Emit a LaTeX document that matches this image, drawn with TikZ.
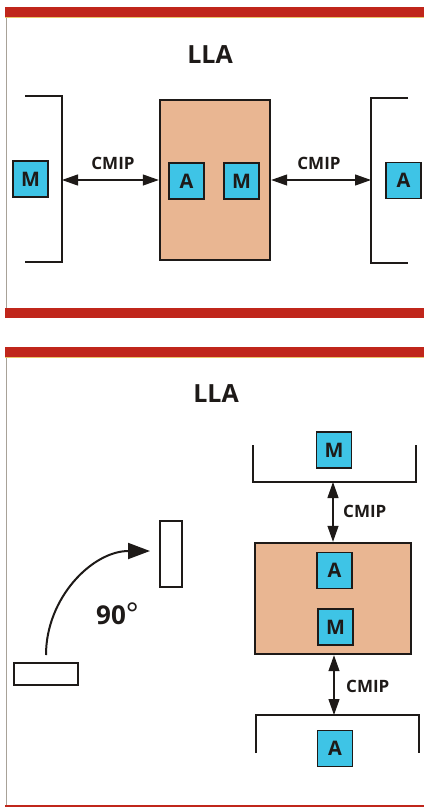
\documentclass[tikz,border=0pt]{standalone}
\usepackage{fontspec}
\setmainfont{Open Sans}
\usetikzlibrary{arrows.meta}
\definecolor{barred}{HTML}{C0261B}
\definecolor{baryel}{HTML}{EAC46A}
\definecolor{edgegray}{HTML}{A8A298}
\definecolor{salmon}{HTML}{E9B692}
\definecolor{agcyan}{HTML}{3EC4E6}
\definecolor{ink}{HTML}{1E1A18}
\tikzset{
  agent/.style={draw=ink, line width=1.1pt, fill=agcyan, minimum width=35pt, minimum height=36pt,
    inner sep=0pt, font=\fontsize{20}{20}\selectfont\bfseries, text=ink},
  sysbox/.style={draw=ink, line width=2.4pt, fill=salmon, inner sep=0pt},
  bracketline/.style={draw=ink, line width=2pt},
  link/.style={draw=ink, line width=1.2pt, {Triangle[length=16pt,width=11pt]}-{Triangle[length=16pt,width=11pt]}},
  lbl/.style={font=\fontsize{17}{17}\selectfont\bfseries, text=ink, inner sep=0pt},
  title/.style={font=\fontsize{25}{25}\selectfont\bfseries, text=ink, inner sep=0pt},
  plate/.style={draw=ink, line width=1.1pt, fill=white},
}
\begin{document}
\begin{tikzpicture}[x=1pt,y=-1pt]
\useasboundingbox[fill=white] (0,0) rectangle (424,807);
% frame bars
\fill[barred] (5,7) rectangle (424,17);
\fill[baryel] (5,17) rectangle (424,18);
\fill[barred] (5,308) rectangle (424,318);
\fill[barred] (5,347) rectangle (424,357);
\fill[baryel] (5,357) rectangle (424,358);
\fill[barred] (5,804.5) rectangle (424,806.5);
\draw[edgegray, line width=1.2pt] (6.5,18) -- (6.5,308);
\draw[edgegray, line width=1.2pt] (6.5,358) -- (6.5,805);

% ---------- top panel ----------
\node[title] (t1) at (210,55) {LLA};
\draw[bracketline] (25,96) -- (62,96) -- (62,262) -- (25,262);
\coordinate (lb) at (62,180);
\draw[bracketline] (408,98) -- (371,98) -- (371,263) -- (408,263);
\coordinate (rb) at (371,180);
\node[agent] (m0) at (30.5,179) {M};
\node[sysbox, minimum width=110pt, minimum height=160pt] (c1) at (215,180) {};
\node[agent] (a1) at (186.5,181) {A};
\node[agent] (m1) at (241.5,181) {M};
\node[agent] (a2) at (403.5,180.5) {A};
\draw[link] (lb) -- (c1.west);
\draw[link] (c1.east) -- (rb);
\node[lbl] (cm1) at (113,163) {CMIP};
\node[lbl] (cm2) at (319,163) {CMIP};

% ---------- bottom panel ----------
\node[title] (t2) at (216,394) {LLA};
\node[plate, minimum width=64pt, minimum height=22pt, inner sep=0pt] (h) at (46,674) {};
\node[plate, minimum width=22pt, minimum height=66pt, inner sep=0pt] (v) at (171,554) {};
\coordinate (arcs) at (46,655);
\draw[ink, line width=2pt, -{Triangle[length=22pt,width=16pt]}] (arcs) arc[start angle=180, end angle=90, radius=104pt] coordinate (arce);
\node[font=\fontsize{26}{26}\selectfont\bfseries, text=ink, inner sep=0pt, anchor=base west] (deg) at (96,624) {90{\fontsize{30}{30}\fontseries{m}\selectfont °}};

\draw[bracketline] (253,445) -- (253,482) -- (416,482) -- (416,445);
\coordinate (ub) at (333,482);
\node[agent] (m2) at (334,450) {M};
\node[sysbox, minimum width=156pt, minimum height=111pt] (c2) at (333,598.5) {};
\node[agent] (a3) at (334.5,570.5) {A};
\node[agent] (m3) at (335.5,627) {M};
\draw[bracketline] (256,753) -- (256,715) -- (419,715) -- (419,753);
\coordinate (db) at (334,715);
\node[agent] (a4) at (335,748.5) {A};
\draw[link] (ub) -- (c2.north);
\draw[link] ([xshift=1pt]c2.south) -- (db);
\node[lbl, anchor=west] (cm3) at (343,511) {CMIP};
\node[lbl, anchor=west] (cm4) at (346,686) {CMIP};
\end{tikzpicture}
\end{document}
